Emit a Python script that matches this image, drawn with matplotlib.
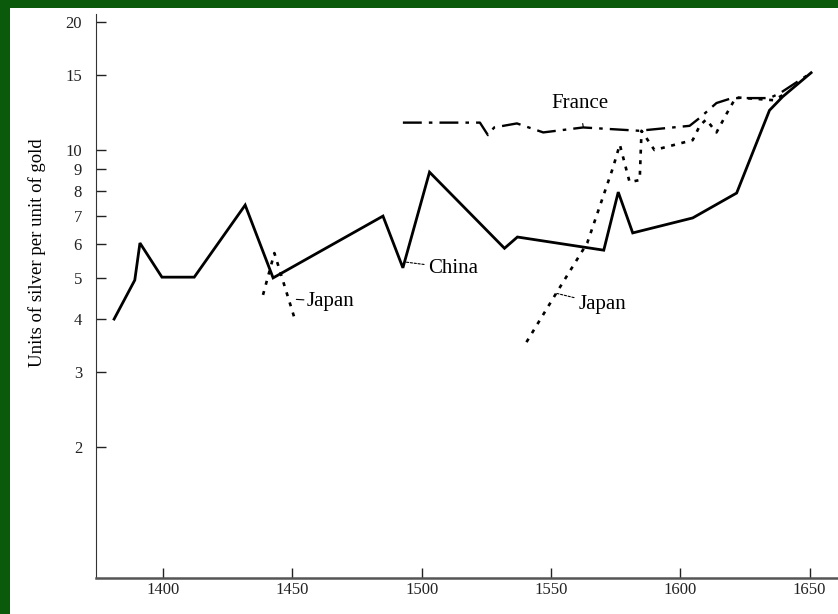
import matplotlib
matplotlib.use("Agg")
import matplotlib.pyplot as plt
import numpy as np

# ---- data ----
china_years = [1381, 1389, 1391, 1399.5, 1412, 1431.7, 1442.5, 1485, 1492.7, 1503,
               1532, 1537, 1570.4, 1576, 1581.6, 1604.8, 1621.8, 1634.5, 1639.6, 1650.6]
china_vals = [4.0, 4.94, 6.04, 5.02, 5.02, 7.42, 5.0, 6.99, 5.28, 8.87,
              5.87, 6.24, 5.81, 7.96, 6.38, 6.92, 7.92, 12.4, 13.35, 15.2]

france_years = [1492.7, 1522.5, 1525.6, 1528, 1536.8, 1547, 1562.4, 1584, 1603.6,
                1607.5, 1614, 1620, 1634.5, 1638.5, 1650.6]
france_vals = [11.6, 11.6, 10.84, 11.3, 11.55, 11.0, 11.3, 11.1, 11.4,
               11.9, 12.9, 13.25, 13.25, 13.6, 15.2]

japan1_years = [1438.6, 1443, 1451]
japan1_vals = [4.56, 5.72, 3.98]

japan2_years = [1540.5, 1552, 1564, 1574, 1576.6, 1580.4, 1584.3, 1585, 1590,
                1604.8, 1607.5, 1610, 1614, 1618, 1621.5, 1636, 1640]
japan2_vals = [3.53, 4.6, 6.04, 9.1, 10.3, 8.4, 8.5, 11.1, 10.0,
               10.55, 11.4, 11.8, 11.0, 12.2, 13.3, 13.1, 13.5]

y_ticks = [2, 3, 4, 5, 6, 7, 8, 9, 10, 15, 20]
x_ticks = [1400, 1450, 1500, 1550, 1600, 1650]

# ---- figure ----
plt.rcParams['font.family'] = ['Liberation Serif', 'DejaVu Serif']
fig = plt.figure(figsize=(8.38, 6.14), dpi=100)
fig.patch.set_facecolor('#0b5a0b')
bg = fig.add_axes([10 / 838, 0, 1 - 10 / 838, (614 - 8) / 614], zorder=-5)
bg.set_facecolor('white')
bg.set_xticks([]); bg.set_yticks([])
for s in bg.spines.values():
    s.set_visible(False)

ax = fig.add_axes([96 / 838, 36 / 614, (838 - 96) / 838, (578 - 14) / 614])
ax.set_facecolor('none')
ax.set_yscale('log')
ax.set_xlim(1374, 1661)
ax.set_ylim(0.983, 20.9)

ax.plot(china_years, china_vals, color='black', lw=2.0, solid_joinstyle='miter')
ax.plot(france_years, france_vals, color='black', lw=1.7, linestyle=(0, (8, 3, 1.5, 3)))
ax.plot(japan1_years, japan1_vals, color='black', lw=1.9, linestyle=(0, (1.5, 2.5)))
ax.plot(japan2_years, japan2_vals, color='black', lw=1.9, linestyle=(0, (1.5, 2.5)))

ax.set_yticks(y_ticks)
ax.set_yticklabels([str(t) for t in y_ticks])
ax.yaxis.set_minor_locator(matplotlib.ticker.NullLocator())
ax.set_xticks(x_ticks)
ax.set_xticklabels([str(t) for t in x_ticks])
ax.tick_params(axis='both', direction='in', length=7, width=1, colors='#222222',
               labelsize=12)
ax.tick_params(axis='y', pad=10)
ax.tick_params(axis='x', pad=3)

for s in ['top', 'right']:
    ax.spines[s].set_visible(False)
ax.spines['left'].set_color('#333333')
ax.spines['bottom'].set_color('#555555')
ax.spines['bottom'].set_linewidth(1.8)

ax.set_ylabel('Units of silver per unit of gold', fontsize=13.5)
ax.yaxis.set_label_coords(-0.067, 0.576)

# annotations
lab_fs = 15
ax.annotate('France', xy=(1562.5, 11.3), xytext=(1561, 12.9), fontsize=lab_fs,
            ha='center', va='center',
            arrowprops=dict(arrowstyle='-', lw=0.8, color='black', shrinkA=6, shrinkB=0))
ax.annotate('China', xy=(1493.5, 5.45), xytext=(1502.5, 5.27), fontsize=lab_fs,
            ha='left', va='center',
            arrowprops=dict(arrowstyle='-', lw=0.8, color='black', linestyle=(0, (2, 1.5)),
                            shrinkA=1, shrinkB=0))
ax.annotate('Japan', xy=(1451.5, 4.45), xytext=(1455.5, 4.4), fontsize=lab_fs,
            ha='left', va='center',
            arrowprops=dict(arrowstyle='-', lw=0.8, color='black', shrinkA=0, shrinkB=0))
ax.annotate('Japan', xy=(1552, 4.6), xytext=(1560.5, 4.33), fontsize=lab_fs,
            ha='left', va='center',
            arrowprops=dict(arrowstyle='-', lw=0.8, color='black', linestyle=(0, (2, 1.5)),
                            shrinkA=1, shrinkB=0))

fig.savefig('out.png', dpi=100, facecolor=fig.get_facecolor())
